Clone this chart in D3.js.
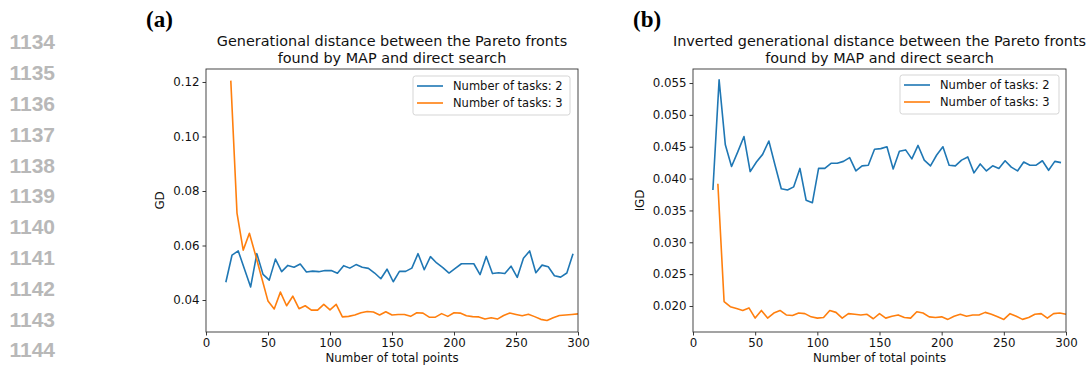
<!DOCTYPE html>
<html>
<head>
<meta charset="utf-8">
<script src="https://cdn.jsdelivr.net/npm/d3@7"></script>
<style>
  html, body { margin: 0; padding: 0; background: #fff; }
  svg { display: block; }
  text { font-family: "DejaVu Sans", sans-serif; }
</style>
</head>
<body>
<svg id="chart" width="1087" height="369"></svg>
<script>
// Sample sizes (total points) for each configuration
const pointsTasks2 = [16, 21, 26, 31, 36, 41, 46, 51, 56, 61, 66, 71, 76, 81, 86, 91, 96, 101, 106, 111,
  116, 121, 126, 131, 136, 141, 146, 151, 156, 161, 166, 171, 176, 181, 186, 191, 196, 201, 206, 211,
  216, 221, 226, 231, 236, 241, 246, 251, 256, 261, 266, 271, 276, 281, 286, 291, 296];
const pointsTasks3 = [20, 25, 30, 35, 40, 45, 50, 55, 60, 65, 70, 75, 80, 85, 90, 95, 100, 105, 110, 115,
  120, 125, 130, 135, 140, 145, 150, 155, 160, 165, 170, 175, 180, 185, 190, 195, 200, 205, 210, 215,
  220, 225, 230, 235, 240, 245, 250, 255, 260, 265, 270, 275, 280, 285, 290, 295, 300];

// Generational distance (GD)
const gdTasks2 = [0.0465, 0.0565, 0.0580, 0.0514, 0.0448, 0.0570, 0.0494, 0.0473, 0.0550, 0.0504,
  0.0527, 0.0520, 0.0532, 0.0503, 0.0506, 0.0504, 0.0508, 0.0508, 0.0498, 0.0526,
  0.0517, 0.0530, 0.0520, 0.0516, 0.0499, 0.0478, 0.0513, 0.0467, 0.0505, 0.0505,
  0.0517, 0.0570, 0.0511, 0.0559, 0.0536, 0.0519, 0.0499, 0.0516, 0.0533, 0.0533,
  0.0533, 0.0493, 0.0560, 0.0497, 0.0500, 0.0497, 0.0524, 0.0483, 0.0553, 0.0580,
  0.0500, 0.0528, 0.0522, 0.0489, 0.0484, 0.0499, 0.0570];
const gdTasks3 = [0.1205, 0.0719, 0.0583, 0.0645, 0.0564, 0.0480, 0.0396, 0.0367, 0.0429, 0.0379,
  0.0414, 0.0368, 0.0379, 0.0363, 0.0363, 0.0384, 0.0364, 0.0384, 0.0338, 0.0340,
  0.0345, 0.0353, 0.0358, 0.0356, 0.0345, 0.0357, 0.0345, 0.0347, 0.0347, 0.0340,
  0.0353, 0.0352, 0.0337, 0.0337, 0.0350, 0.0340, 0.0353, 0.0352, 0.0342, 0.0339,
  0.0338, 0.0330, 0.0335, 0.0330, 0.0343, 0.0352, 0.0347, 0.0342, 0.0348, 0.0339,
  0.0329, 0.0325, 0.0335, 0.0343, 0.0345, 0.0347, 0.0349];

// Inverted generational distance (IGD)
const igdTasks2 = [0.0382, 0.0555, 0.0453, 0.0419, 0.0442, 0.0466, 0.0411, 0.0426, 0.0438, 0.0459,
  0.0421, 0.0384, 0.0382, 0.0387, 0.0416, 0.0366, 0.0362, 0.0416, 0.0416, 0.0424,
  0.0424, 0.0427, 0.0433, 0.0412, 0.0420, 0.0421, 0.0446, 0.0447, 0.0450, 0.0415,
  0.0443, 0.0445, 0.0431, 0.0452, 0.0429, 0.0420, 0.0437, 0.0450, 0.0421, 0.0420,
  0.0429, 0.0434, 0.0409, 0.0423, 0.0412, 0.0420, 0.0416, 0.0428, 0.0418, 0.0412,
  0.0426, 0.0421, 0.0421, 0.0428, 0.0413, 0.0427, 0.0425];
const igdTasks3 = [0.0392, 0.0207, 0.0199, 0.0196, 0.0193, 0.0197, 0.0181, 0.0193, 0.0181, 0.0189,
  0.0193, 0.0186, 0.0185, 0.0189, 0.0188, 0.0183, 0.0181, 0.0182, 0.0193, 0.0190,
  0.0181, 0.0188, 0.0187, 0.0186, 0.0187, 0.0180, 0.0188, 0.0181, 0.0184, 0.0186,
  0.0182, 0.0181, 0.0191, 0.0189, 0.0183, 0.0182, 0.0183, 0.0179, 0.0184, 0.0187,
  0.0184, 0.0186, 0.0186, 0.0190, 0.0187, 0.0183, 0.0179, 0.0188, 0.0184, 0.0179,
  0.0182, 0.0187, 0.0188, 0.0181, 0.0188, 0.0189, 0.0187];

const xTicks = [0, 50, 100, 150, 200, 250, 300];
const gdTicks = [0.04, 0.06, 0.08, 0.10, 0.12];
const igdTicks = [0.020, 0.025, 0.030, 0.035, 0.040, 0.045, 0.050, 0.055];
const seriesNames = ["Number of tasks: 2", "Number of tasks: 3"];
const seriesColors = ["#1f77b4", "#ff7f0e"];
const lineNumbers = ["1134", "1135", "1136", "1137", "1138", "1139", "1140", "1141", "1142", "1143", "1144"];

const svg = d3.select("#chart");
const labelSize = "11.8px";

// Manuscript line numbers down the left margin
svg.append("g").selectAll("text").data(lineNumbers).join("text")
  .attr("x", 55)
  .attr("y", (d, i) => 42 + i * 30.8)
  .attr("dy", "0.35em")
  .attr("text-anchor", "end")
  .style("font-family", "'Liberation Sans', Arial, sans-serif")
  .style("font-weight", "bold")
  .style("font-size", "21px")
  .attr("fill", "#b8b8b8")
  .text(d => d);

function panel(opts) {
  const { left, right, top, bottom, yDomain, yTicks, yFmt, yLabel, yLabelX,
          title, tag, tagX, legendBox, series } = opts;
  const g = svg.append("g");
  const x = d3.scaleLinear().domain([0, 300]).range([left, right]);
  const y = d3.scaleLinear().domain(yDomain).range([bottom, top]);

  // Series lines
  const line = d3.line().x(d => x(d[0])).y(d => y(d[1]));
  const plot = g.append("g");
  series.forEach((s, i) => {
    plot.append("path")
      .datum(d3.zip(s.xs, s.ys))
      .attr("fill", "none")
      .attr("stroke", seriesColors[i])
      .attr("stroke-width", 1.6)
      .attr("stroke-linejoin", "round")
      .attr("d", line);
  });

  // Axes
  const xAxis = g.append("g").attr("transform", `translate(0,${bottom})`)
    .call(d3.axisBottom(x).tickValues(xTicks).tickFormat(d3.format("d")).tickSizeOuter(0).tickSize(3.5).tickPadding(3));
  const yAxis = g.append("g").attr("transform", `translate(${left},0)`)
    .call(d3.axisLeft(y).tickValues(yTicks).tickFormat(d3.format(yFmt)).tickSizeOuter(0).tickSize(3.5).tickPadding(3));
  [xAxis, yAxis].forEach(a => {
    a.select(".domain").remove();
    a.selectAll("line").attr("stroke", "#222").attr("stroke-width", 0.9);
    a.selectAll("text").style("font-size", labelSize).attr("fill", "#111")
      .style("font-family", "'DejaVu Sans', sans-serif");
  });

  // Frame
  g.append("rect")
    .attr("x", left).attr("y", top)
    .attr("width", right - left).attr("height", bottom - top)
    .attr("fill", "none").attr("stroke", "#333").attr("stroke-width", 0.9);

  // Axis labels
  g.append("text")
    .attr("x", (left + right) / 2).attr("y", 358).attr("dy", "0.35em")
    .attr("text-anchor", "middle").style("font-size", labelSize).attr("fill", "#111")
    .text("Number of total points");
  g.append("text")
    .attr("transform", `translate(${yLabelX},${(top + bottom) / 2}) rotate(-90)`)
    .attr("dy", "0.35em")
    .attr("text-anchor", "middle").style("font-size", labelSize).attr("fill", "#111")
    .text(yLabel);

  // Title
  const t = g.append("text").attr("text-anchor", "middle")
    .style("font-size", "14.4px").attr("fill", "#111");
  title.forEach((ln, i) => {
    t.append("tspan").attr("x", (left + right) / 2).attr("y", 46 + i * 16.5).text(ln);
  });

  // Panel tag
  g.append("text")
    .attr("x", tagX).attr("y", 27)
    .style("font-family", "'Liberation Serif', 'Times New Roman', serif")
    .style("font-weight", "bold").style("font-size", "23px").attr("fill", "#000")
    .text(tag);

  // Legend
  const lg = g.append("g");
  lg.append("rect")
    .attr("x", legendBox[0]).attr("y", legendBox[1])
    .attr("width", legendBox[2]).attr("height", legendBox[3])
    .attr("rx", 2.5)
    .attr("fill", "#fff").attr("fill-opacity", 0.8)
    .attr("stroke", "#d0d0d0").attr("stroke-width", 0.9);
  seriesNames.forEach((name, i) => {
    const ly = legendBox[1] + 10 + i * 17;
    lg.append("line")
      .attr("x1", legendBox[0] + 4).attr("x2", legendBox[0] + 30)
      .attr("y1", ly).attr("y2", ly)
      .attr("stroke", seriesColors[i]).attr("stroke-width", 1.6);
    lg.append("text")
      .attr("x", legendBox[0] + 40).attr("y", ly).attr("dy", "0.35em")
      .style("font-size", "11.5px").attr("fill", "#111")
      .text(name);
  });
}

panel({
  left: 206, right: 578, top: 69, bottom: 332,
  yDomain: [0.02826, 0.12477], yTicks: gdTicks, yFmt: ".2f",
  yLabel: "GD", yLabelX: 160,
  title: ["Generational distance between the Pareto fronts", "found by MAP and direct search"],
  tag: "(a)", tagX: 146,
  legendBox: [413, 76, 157, 39],
  series: [{ xs: pointsTasks2, ys: gdTasks2 }, { xs: pointsTasks3, ys: gdTasks3 }]
});

panel({
  left: 693, right: 1066, top: 69, bottom: 332,
  yDomain: [0.01592, 0.0572], yTicks: igdTicks, yFmt: ".3f",
  yLabel: "IGD", yLabelX: 640,
  title: ["Inverted generational distance between the Pareto fronts", "found by MAP and direct search"],
  tag: "(b)", tagX: 633,
  legendBox: [900, 75, 159, 39],
  series: [{ xs: pointsTasks2, ys: igdTasks2 }, { xs: pointsTasks3, ys: igdTasks3 }]
});
</script>
</body>
</html>
